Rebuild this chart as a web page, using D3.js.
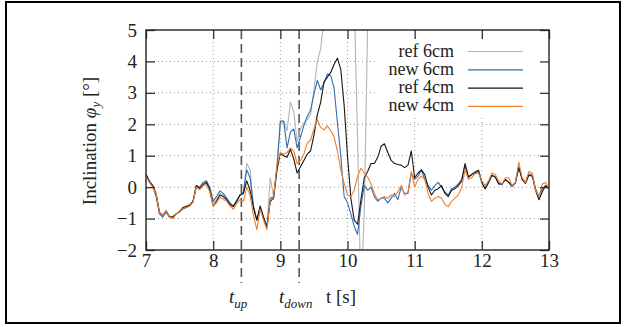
<!DOCTYPE html>
<html>
<head>
<meta charset="utf-8">
<script src="https://cdn.jsdelivr.net/npm/d3@7"></script>
<style>
  body { margin: 0; background: #fff; }
  text { font-family: "Liberation Serif", "Times New Roman", serif; fill: #222; }
</style>
</head>
<body>
<div id="chart"></div>
<script>
// sample times [s]
var times = [
  7.00, 7.05, 7.10, 7.15, 7.20, 7.25, 7.30, 7.35, 7.40, 7.45,
  7.50, 7.55, 7.60, 7.65, 7.70, 7.75, 7.80, 7.85, 7.90, 7.95,
  8.00, 8.05, 8.10, 8.15, 8.20, 8.25, 8.30, 8.35, 8.40, 8.45,
  8.50, 8.55, 8.60, 8.65, 8.70, 8.75, 8.80, 8.85, 8.90, 8.95,
  9.00, 9.05, 9.10, 9.15, 9.20, 9.25, 9.30, 9.35, 9.40, 9.45,
  9.50, 9.55, 9.60, 9.65, 9.70, 9.75, 9.80, 9.85, 9.90, 9.95,
  10.00, 10.05, 10.10, 10.15, 10.20, 10.25, 10.30, 10.35, 10.40, 10.45,
  10.50, 10.55, 10.60, 10.65, 10.70, 10.75, 10.80, 10.85, 10.90, 10.95,
  11.00, 11.05, 11.10, 11.15, 11.20, 11.25, 11.30, 11.35, 11.40, 11.45,
  11.50, 11.55, 11.60, 11.65, 11.70, 11.75, 11.80, 11.85, 11.90, 11.95,
  12.00, 12.05, 12.10, 12.15, 12.20, 12.25, 12.30, 12.35, 12.40, 12.45,
  12.50, 12.55, 12.60, 12.65, 12.70, 12.75, 12.80, 12.85, 12.90, 12.95,
  13.00
];

// inclination [deg]
var ref6cm = [
  0.40, 0.17, 0.05, -0.25, -0.80, -0.90, -0.75, -0.95, -0.95, -0.85,
  -0.78, -0.65, -0.60, -0.55, -0.45, 0.05, -0.02, 0.10, 0.18, -0.05,
  -0.50, -0.40, -0.20, -0.25, -0.38, -0.55, -0.62, -0.45, -0.25, -0.20,
  0.75, 0.55, -0.65, -1.05, -0.65, -1.00, -1.25, 0.30, -0.30, 0.75,
  2.00, 2.10, 1.80, 2.70, 2.40, 1.45, 1.85, 2.05, 2.15, 2.30,
  3.10, 4.00, 4.40, 5.30, 6.50, 7.00, 7.50, 7.50, 7.50, 7.50,
  7.50, 7.00, 6.00, 1.50, -3.50, -0.80, 5.20, 9.00
];

var new6cm = [
  0.40, 0.20, 0.05, -0.30, -0.85, -0.95, -0.80, -0.95, -0.95, -0.85,
  -0.78, -0.70, -0.65, -0.60, -0.45, 0.05, 0.00, 0.15, 0.20, 0.00,
  -0.45, -0.30, -0.12, -0.20, -0.35, -0.50, -0.60, -0.42, -0.25, -0.15,
  0.55, 0.30, -0.60, -1.05, -0.65, -1.00, -1.25, -0.35, -0.30, 0.60,
  2.10, 2.10, 1.25, 1.75, 1.85, 1.25, 1.60, 1.95, 2.25, 2.45,
  2.95, 3.40, 3.10, 3.30, 3.60, 3.55, 3.15, 2.05, 1.00, -0.30,
  -0.50, -0.85, -1.25, -1.50, -0.60, 0.05, -0.10, 0.00, -0.30, -0.45,
  -0.35, -0.35, -0.50, -0.35, -0.20, -0.40, 0.00, -0.20, -0.20, 0.44,
  0.25, 0.35, 0.54, 0.25, 0.05, -0.10, 0.05, 0.15, 0.00, -0.15,
  -0.25, -0.05, 0.00, 0.10, 0.25, 0.70, 0.30, 0.40, 0.45, 0.50,
  0.15, -0.05, 0.15, 0.38, 0.32, 0.12, 0.08, 0.25, 0.15, 0.05,
  0.12, 0.65, 0.25, 0.15, 0.42, 0.40, -0.05, -0.30, -0.05, 0.05,
  -0.05
];

var ref4cm = [
  0.40, 0.17, 0.05, -0.20, -0.80, -0.90, -0.75, -0.95, -0.95, -0.85,
  -0.78, -0.65, -0.62, -0.58, -0.45, 0.05, -0.05, 0.08, 0.15, -0.10,
  -0.60, -0.45, -0.25, -0.30, -0.40, -0.55, -0.62, -0.45, -0.25, -0.20,
  0.20, -0.10, -0.65, -1.05, -0.60, -0.95, -1.28, -0.45, -0.35, 0.55,
  1.07, 1.00, 0.95, 1.20, 0.90, 0.45, 0.65, 0.85, 1.05, 1.15,
  1.65, 2.30, 2.70, 3.35, 3.50, 3.65, 3.90, 4.10, 3.75, 2.60,
  1.00, -0.35, -1.05, -1.18, -0.40, 0.30, 0.50, 0.75, 0.75, 0.95,
  1.30, 1.38, 1.10, 0.85, 0.75, 0.72, 0.70, 0.62, 0.70, 1.15,
  0.30, 0.45, 0.55, 0.40, 0.00, -0.25, -0.10, -0.05, 0.05, -0.20,
  -0.30, -0.10, -0.05, 0.05, 0.20, 0.75, 0.33, 0.40, 0.48, 0.54,
  0.15, -0.05, 0.15, 0.38, 0.32, 0.10, 0.10, 0.25, 0.15, 0.02,
  0.15, 0.62, 0.25, 0.12, 0.38, 0.35, -0.10, -0.40, -0.15, 0.05,
  -0.05
];

var new4cm = [
  0.35, 0.15, 0.00, -0.20, -0.80, -0.90, -0.75, -0.95, -1.00, -0.85,
  -0.80, -0.68, -0.65, -0.60, -0.48, 0.00, -0.08, 0.05, 0.08, -0.15,
  -0.60, -0.50, -0.32, -0.38, -0.45, -0.60, -0.70, -0.52, -0.40, -0.45,
  0.00, -0.25, -0.90, -1.35, -0.70, -1.05, -1.35, -0.40, -0.30, 0.70,
  1.10, 1.05, 1.10, 1.25, 1.15, 0.75, 0.85, 1.05, 1.40, 1.50,
  1.85, 2.15, 1.90, 1.82, 1.95, 1.80, 1.60, 1.15, 0.55, 0.12,
  -0.25, -0.30, -0.10, 0.35, 0.60, 0.45, 0.32, 0.10, -0.20, -0.40,
  -0.35, -0.30, -0.35, -0.25, -0.30, -0.15, 0.05, -0.25, -0.15, 0.50,
  0.00, 0.25, 0.35, 0.25, -0.20, -0.45, -0.35, -0.30, -0.35, -0.55,
  -0.62, -0.45, -0.35, -0.25, 0.00, 0.55, 0.25, 0.30, 0.43, 0.45,
  0.20, 0.05, 0.20, 0.45, 0.40, 0.20, 0.10, 0.30, 0.30, 0.05,
  0.15, 0.80, 0.30, 0.15, 0.50, 0.45, -0.10, -0.30, 0.10, 0.15,
  -0.05
];

var seriesNames = ["ref 6cm", "new 6cm", "ref 4cm", "new 4cm"];
var seriesColors = ["#b4b4b4", "#2f6db5", "#151515", "#f0802c"];
var xTicks = [7, 8, 9, 10, 11, 12, 13];
var yTicks = [-2, -1, 0, 1, 2, 3, 4, 5];
var tUp = 8.42, tDown = 9.28;

var svgWidth = 626, svgHeight = 327;
var margin = { top: 30, right: 77, bottom: 77, left: 146 };
var width = svgWidth - margin.left - margin.right;
var height = svgHeight - margin.top - margin.bottom;

var svg = d3.select("#chart").append("svg")
  .attr("width", svgWidth)
  .attr("height", svgHeight);

// outer frame
svg.append("rect")
  .attr("x", 6).attr("y", 2)
  .attr("width", 614).attr("height", 321)
  .attr("fill", "none").attr("stroke", "#000").attr("stroke-width", 2);

var g = svg.append("g").attr("transform", `translate(${margin.left},${margin.top})`);

var x = d3.scaleLinear().domain([7, 13]).range([0, width]);
var y = d3.scaleLinear().domain([-2, 5]).range([height, 0]);

// grid
g.append("g").selectAll("line").data(xTicks.slice(1, -1)).enter().append("line")
  .attr("x1", d => x(d)).attr("x2", d => x(d))
  .attr("y1", 0).attr("y2", height)
  .attr("stroke", "#999").attr("stroke-dasharray", "1,3");
g.append("g").selectAll("line").data(yTicks.slice(1, -1)).enter().append("line")
  .attr("x1", 0).attr("x2", width)
  .attr("y1", d => y(d)).attr("y2", d => y(d))
  .attr("stroke", "#999").attr("stroke-dasharray", "1,3");

// t_up / t_down markers
[tUp, tDown].forEach(function(t) {
  g.append("line")
    .attr("x1", x(t)).attr("x2", x(t))
    .attr("y1", 0).attr("y2", height + 33)
    .attr("stroke", "#555").attr("stroke-width", 1.6)
    .attr("stroke-dasharray", "9,5");
});

// curves
g.append("clipPath").attr("id", "clip")
  .append("rect").attr("width", width).attr("height", height);

var line = d3.line()
  .x(d => x(d[0]))
  .y(d => y(d[1]));

var allSeries = [ref6cm, new6cm, ref4cm, new4cm];
allSeries.forEach(function(vals, i) {
  var pts = vals.map((v, k) => [times[k], v]);
  g.append("path")
    .datum(pts)
    .attr("clip-path", "url(#clip)")
    .attr("fill", "none")
    .attr("stroke", seriesColors[i])
    .attr("stroke-width", 1.1)
    .attr("stroke-linejoin", "round")
    .attr("d", line);
});

// legend (opaque)
var legend = g.append("g");
legend.append("rect")
  .attr("x", 232).attr("y", 1)
  .attr("width", width - 233).attr("height", 85)
  .attr("fill", "#fff");
seriesNames.forEach(function(name, i) {
  var by = 26.5 + i * 18.3;
  legend.append("text")
    .attr("x", 308).attr("y", by)
    .attr("text-anchor", "end")
    .attr("font-size", 18)
    .text(name);
  legend.append("line")
    .attr("x1", 322).attr("x2", 377)
    .attr("y1", by - 5).attr("y2", by - 5)
    .attr("stroke", seriesColors[i]).attr("stroke-width", 1.2);
});

// axes (inward ticks on all sides)
var bottomAxis = d3.axisBottom(x).tickValues(xTicks).tickSizeInner(-9).tickSizeOuter(0).tickPadding(3)
  .tickFormat(d3.format("d"));
var topAxis = d3.axisTop(x).tickValues(xTicks).tickSizeInner(-9).tickSizeOuter(0).tickFormat("");
var leftAxis = d3.axisLeft(y).tickValues(yTicks).tickSizeInner(-9).tickSizeOuter(0).tickPadding(9)
  .tickFormat(d => d < 0 ? "\u2212" + Math.abs(d) : d);
var rightAxis = d3.axisRight(y).tickValues(yTicks).tickSizeInner(-9).tickSizeOuter(0).tickFormat("");

var gb = g.append("g").attr("transform", `translate(0,${height})`).call(bottomAxis);
var gt = g.append("g").call(topAxis);
var gl = g.append("g").call(leftAxis);
var gr = g.append("g").attr("transform", `translate(${width},0)`).call(rightAxis);
[gb, gt, gl, gr].forEach(function(a) {
  a.select(".domain").remove();
  a.selectAll(".tick line").attr("stroke", "#333").attr("stroke-width", 1.3);
  a.selectAll("text")
    .attr("font-family", "Liberation Serif")
    .attr("font-size", 19)
    .attr("fill", "#222");
});

// plot frame
g.append("rect")
  .attr("width", width).attr("height", height)
  .attr("fill", "none").attr("stroke", "#222").attr("stroke-width", 1.4);

// axis labels
var yl = svg.append("text")
  .attr("transform", "translate(96,141) rotate(-90)")
  .attr("text-anchor", "middle")
  .attr("font-size", 19);
yl.append("tspan").text("Inclination ");
yl.append("tspan").attr("font-style", "italic").text("\u03c6");
yl.append("tspan").attr("font-style", "italic").attr("font-size", 13).attr("dy", 4).text("y");
yl.append("tspan").attr("dy", -4).text(" [\u00b0]");

function subLabel(px, main, sub) {
  var t = svg.append("text").attr("x", px).attr("y", 303).attr("font-size", 19);
  t.append("tspan").attr("font-style", "italic").text(main);
  t.append("tspan").attr("font-style", "italic").attr("font-size", 13).attr("dy", 5).text(sub);
}
subLabel(229, "t", "up");
subLabel(279, "t", "down");

svg.append("text")
  .attr("x", 326).attr("y", 303)
  .attr("font-size", 19)
  .text("t [s]");
</script>
</body>
</html>
